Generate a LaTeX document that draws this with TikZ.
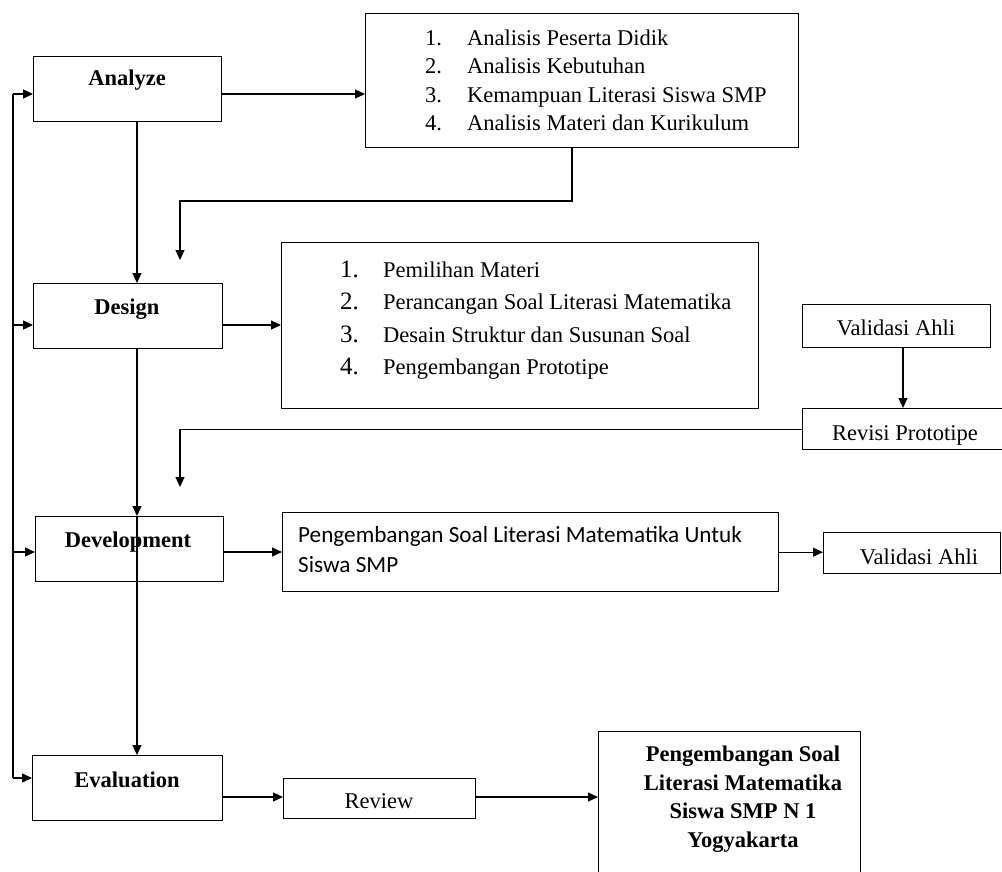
\documentclass[tikz,border=0pt]{standalone}
\usepackage{fontspec}
\setmainfont{Liberation Serif}
\newfontfamily\carlitofont{Carlito}
\usetikzlibrary{arrows.meta}
\begin{document}
\begin{tikzpicture}[x=1pt,y=-1pt,
  box/.style={draw=black, line width=1.4pt, inner sep=0pt, anchor=north west},
  conn/.style={line width=1.1pt},
  arr/.style={conn, -{Triangle[length=10pt,width=9pt]}},
  txt/.style={font=\fontsize{22.5}{28}\selectfont, inner sep=0pt},
  bold/.style={font=\fontsize{22.5}{28.5}\selectfont\bfseries, inner sep=0pt},
  sans/.style={font=\fontsize{23.2}{30}\carlitofont, inner sep=0pt},
  bignum/.style={font=\fontsize{25}{28}\selectfont, inner sep=0pt}
]
\useasboundingbox (0,0) rectangle (1002,871);
\clip (0,0) rectangle (1002,871);

% phase boxes
\node[box, minimum width=188pt, minimum height=65pt] (analyze) at (33,56) {};
\node[bold] (analyzeT) at (127,80) {Analyze};
\node[box, minimum width=189pt, minimum height=65pt] (design) at (33,283) {};
\node[bold] (designT) at (127,309) {Design};
\node[box, minimum width=188pt, minimum height=65pt] (development) at (35,516) {};
\node[bold] (developmentT) at (128,542) {Development};
\node[box, minimum width=190pt, minimum height=65pt] (evaluation) at (32,755) {};
\node[bold] (evaluationT) at (127,780) {Evaluation};

% analyze list
\node[box, minimum width=433pt, minimum height=134pt] (list1) at (365,13) {};
\node[txt, anchor=base west] (l1n1) at (425,45) {1.};
\node[txt, anchor=base west] (l1t1) at (467,45) {Analisis Peserta Didik};
\node[txt, anchor=base west] (l1n2) at (425,73) {2.};
\node[txt, anchor=base west] (l1t2) at (467,73) {Analisis Kebutuhan};
\node[txt, anchor=base west] (l1n3) at (425,102) {3.};
\node[txt, anchor=base west] (l1t3) at (467,102) {Kemampuan Literasi Siswa SMP};
\node[txt, anchor=base west] (l1n4) at (425,130) {4.};
\node[txt, anchor=base west] (l1t4) at (467,130) {Analisis Materi dan Kurikulum};

% design list
\node[box, minimum width=477pt, minimum height=166pt] (list2) at (281,242) {};
\node[bignum, anchor=base west] (l2n1) at (340,277) {1.};
\node[txt, anchor=base west] (l2t1) at (383,277) {Pemilihan Materi};
\node[bignum, anchor=base west] (l2n2) at (340,309) {2.};
\node[txt, anchor=base west] (l2t2) at (383,309) {Perancangan Soal Literasi Matematika};
\node[bignum, anchor=base west] (l2n3) at (340,342) {3.};
\node[txt, anchor=base west] (l2t3) at (383,342) {Desain Struktur dan Susunan Soal};
\node[bignum, anchor=base west] (l2n4) at (340,374) {4.};
\node[txt, anchor=base west] (l2t4) at (383,374) {Pengembangan Prototipe};

% validation / revision
\node[box, minimum width=188pt, minimum height=43pt] (val1) at (802,304) {};
\node[txt, anchor=base] (val1T) at (896,335) {Validasi Ahli};
\node[box, minimum width=220pt, minimum height=41pt] (revisi) at (802,408) {};
\node[txt, anchor=base] (revisiT) at (905,440) {Revisi Prototipe};

% development text
\node[box, minimum width=496pt, minimum height=79pt] (devtext) at (282,512) {};
\node[sans, anchor=base west] (devT1) at (298,542) {Pengembangan Soal Literasi Matematika Untuk};
\node[sans, anchor=base west] (devT2) at (298,572) {Siswa SMP};
\node[box, minimum width=177pt, minimum height=41pt] (val2) at (823,532) {};
\node[txt, anchor=base] (val2T) at (919,564) {Validasi Ahli};

% evaluation chain
\node[box, minimum width=192pt, minimum height=40pt] (review) at (283,778) {};
\node[txt, anchor=base] (reviewT) at (379,808) {Review};
\node[box, minimum width=262pt, minimum height=200pt] (final) at (598,731) {};
\node[bold, align=center, anchor=north] (finalT) at (743,746) {Pengembangan Soal\\Literasi Matematika\\Siswa SMP N 1\\Yogyakarta};

% left feedback bus
\coordinate (bt) at (13,94);
\coordinate (bd) at (13,325);
\coordinate (bv) at (13,552);
\coordinate (bb) at (13,778);
\draw[line width=1.8pt] (bt) -- (bb);
\draw[arr, line width=1.5pt] (bt) -- (bt -| analyze.west);
\draw[arr, line width=1.5pt] (bd) -- (bd -| design.west);
\draw[arr, line width=1.5pt] (bv) -- (bv -| development.west);
\draw[arr, line width=1.5pt] (bb) -- (bb -| evaluation.west);

% main vertical flow
\coordinate (vx) at (137,0);
\draw[arr] (analyze.south -| vx) -- (design.north -| vx);
\draw[arr] (design.south -| vx) -- (development.north -| vx);
\draw[arr] (development.north -| vx) -- (evaluation.north -| vx);

% horizontal arrows to detail boxes
\coordinate (a1) at (221,94);
\draw[arr] (a1) -- (a1 -| list1.west);
\coordinate (d1) at (222,325);
\draw[arr] (d1) -- (d1 -| list2.west);
\coordinate (v1) at (223,552);
\draw[arr] (v1) -- (v1 -| devtext.west);
\draw[arr] (devtext.east) -- (devtext.east -| val2.west);
\coordinate (e1) at (222,797);
\draw[arr] (e1) -- (e1 -| review.west);
\draw[arr] (review.east |- e1) -- (e1 -| final.west);

% elbow connectors with free ends
\coordinate (k1) at (572,201);
\coordinate (k1e) at (180,260);
\draw[arr] (list1.south -| k1) -- (k1) -- (k1 -| k1e) -- (k1e);
\coordinate (k2e) at (180,487);
\draw[arr] (revisi.west) -- (revisi.west -| k2e) -- (k2e);
\coordinate (vv) at (903,0);
\draw[arr] (val1.south -| vv) -- (revisi.north -| vv);
\end{tikzpicture}
\end{document}
